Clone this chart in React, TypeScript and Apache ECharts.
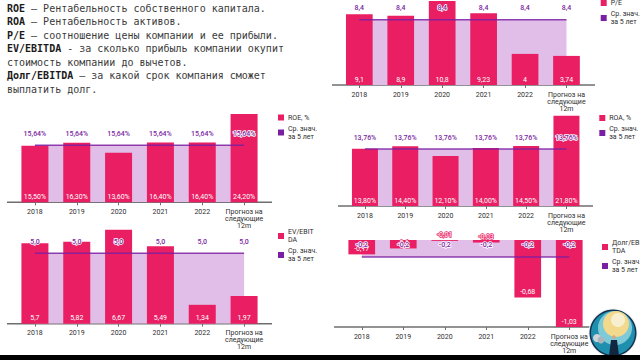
import React, { useEffect, useRef } from "react";
import * as echarts from "echarts";

const categories = ["2018", "2019", "2020", "2021", "2022", "Прогноз на\nследующие\n12m"];

const roeValues = [15.5, 16.3, 13.6, 16.4, 16.4, 24.2];
const roeAverage = [15.64, 15.64, 15.64, 15.64, 15.64, 15.64];
const roaValues = [13.8, 14.4, 12.1, 14.0, 14.5, 21.8];
const roaAverage = [13.76, 13.76, 13.76, 13.76, 13.76, 13.76];
const peValues = [9.1, 8.9, 10.8, 9.23, 4, 3.74];
const peAverage = [8.4, 8.4, 8.4, 8.4, 8.4, 8.4];
const evValues = [5.7, 5.82, 6.67, 5.49, 1.34, 1.97];
const evAverage = [5.0, 5.0, 5.0, 5.0, 5.0, 5.0];
const debtValues = [-0.17, -0.1, -0.01, -0.03, -0.68, -1.03];
const debtAverage = [-0.2, -0.2, -0.2, -0.2, -0.2, -0.2];

const noteLines: [string, string][] = [
  ["ROE", " — Рентабельность собственного капитала."],
  ["ROA", " — Рентабельность активов."],
  ["P/E", " — соотношение цены компании и ее прибыли."],
  ["EV/EBITDA", " - за сколько прибыль компании окупит"],
  ["", "стоимость компании до вычетов."],
  ["Долг/EBITDA", " — за какой срок компания сможет"],
  ["", "выплатить долг."],
];

const PINK = "#e91e63";
const PURPLE = "#7b1fa2";
const AREA = "#e1bee7";
const AVG_NAME = "Ср. знач.\nза 5 лет";
const FONT = "Roboto";

const comma = (s: string) => s.replace(".", ",");

const panels = [
  { name: "ROE, %", values: roeValues, avg: roeAverage, left: 14, right: 265, top: 114, bottom: 202.3, min: 0, max: 24.2, barWidth: 27, axisFrom: 7, axisTo: 272, legend: [278, 113.5],
    fmtValue: (v: number) => comma(v.toFixed(2)) + "%", fmtAvg: (v: number) => comma(v.toFixed(2)) + "%" },
  { name: "ROA, %", values: roaValues, avg: roaAverage, left: 344.8, right: 586.6, top: 115.7, bottom: 206, min: 0, max: 21.8, barWidth: 26, axisFrom: 338, axisTo: 593, legend: [599.3, 114],
    fmtValue: (v: number) => comma(v.toFixed(2)) + "%", fmtAvg: (v: number) => comma(v.toFixed(2)) + "%" },
  { name: "P/E", values: peValues, avg: peAverage, left: 338.6, right: 587.2, top: 1, bottom: 85, min: 0, max: 10.8, barWidth: 26.7, axisFrom: 332, axisTo: 595, legend: [600.7, -1],
    fmtValue: (v: number) => comma(String(v)), fmtAvg: (v: number) => comma(v.toFixed(1)) },
  { name: "EV/EBIT\nDA", values: evValues, avg: evAverage, left: 14, right: 265, top: 229.7, bottom: 323.7, min: 0, max: 6.67, barWidth: 27, axisFrom: 7, axisTo: 272, legend: [278, 228],
    fmtValue: (v: number) => comma(String(v)), fmtAvg: (v: number) => comma(v.toFixed(1)) },
  { name: "Долг/EBI\nTDA", values: debtValues, avg: debtAverage, left: 341, right: 590, top: 240, bottom: 327, min: -1.03, max: 0, barWidth: 26.7, axisFrom: 334, axisTo: 600, legend: [602, 239],
    fmtValue: (v: number) => comma(String(v)), fmtAvg: (v: number) => comma(String(v)) },
];

function buildOption() {
  const grid: any[] = [];
  const xAxis: any[] = [];
  const yAxis: any[] = [];
  const series: any[] = [];
  const legend: any[] = [];
  const graphic: any[] = [];

  panels.forEach((p, i) => {
    grid.push({ left: p.left, width: p.right - p.left, top: p.top, height: p.bottom - p.top, containLabel: false });
    xAxis.push({
      type: "category", gridIndex: i, data: categories, position: "bottom",
      axisLine: { show: false, onZero: false },
      axisTick: { show: true, alignWithLabel: true, length: 3, lineStyle: { color: "#6e6e6e", width: 1 } },
      axisLabel: { interval: 0, margin: 6, color: "#2e2e2e", fontFamily: FONT, fontSize: 7, lineHeight: 7 },
    });
    yAxis.push({ type: "value", gridIndex: i, show: false, min: p.min, max: p.max });
    series.push({
      type: "line", name: "area" + i, xAxisIndex: i, yAxisIndex: i, data: p.avg, z: 1,
      symbol: "none", lineStyle: { width: 0 }, areaStyle: { color: AREA, opacity: 1 },
    });
    series.push({
      type: "bar", name: p.name, xAxisIndex: i, yAxisIndex: i, data: p.values, z: 2, barWidth: p.barWidth,
      itemStyle: { color: PINK },
      label: {
        show: true, position: "insideBottom", distance: 2, color: "#fff", fontFamily: FONT, fontSize: 7,
        textBorderColor: PINK, textBorderWidth: 1.5,
        formatter: (d: any) => p.fmtValue(d.value),
      },
    });
    series.push({
      type: "line", name: AVG_NAME, xAxisIndex: i, yAxisIndex: i, data: p.avg, z: 3,
      symbol: "circle", symbolSize: 0, itemStyle: { color: PURPLE },
      lineStyle: { color: PURPLE, width: 1.5, opacity: 0.85 },
      label: {
        show: true, position: "top", distance: 8, color: PURPLE, fontFamily: FONT, fontSize: 7, fontWeight: 500,
        textBorderColor: "#fff", textBorderWidth: 1.5,
        formatter: (d: any) => p.fmtAvg(d.value),
      },
    });
    legend.push({
      left: p.legend[0], top: p.legend[1], orient: "vertical", icon: "rect", itemWidth: 6, itemHeight: 6, itemGap: 3,
      selectedMode: false, padding: 0, data: [p.name, AVG_NAME],
      textStyle: { color: "#2e2e2e", fontFamily: FONT, fontSize: 7, lineHeight: 8, padding: [0, 0, 0, -1] },
    });
    graphic.push({
      type: "line", z: 0, shape: { x1: p.axisFrom, y1: p.bottom, x2: p.axisTo, y2: p.bottom },
      style: { stroke: "#6e6e6e", lineWidth: 1.5 },
    });
  });

  noteLines.forEach((l, i) => {
    graphic.push({
      type: "text", z: 5, x: 7, y: 8.3 + i * 13.5,
      style: {
        text: (l[0] ? `{b|${l[0]}}` : "") + `{n|${l[1]}}`,
        verticalAlign: "middle", align: "left",
        rich: {
          b: { fontFamily: "DejaVu Sans Mono", fontSize: 10, fontWeight: "bold", fill: "#1a1a1a", color: "#1a1a1a" },
          n: { fontFamily: "DejaVu Sans Mono", fontSize: 10, fill: "#3a3a3a", color: "#3a3a3a" },
        },
      },
    });
  });

  // round logo in the corner
  const cx = 613;
  const cy = 333;
  const disc = (dx: number, dy: number, r: number, fill: string) => ({
    type: "circle", z: 50, shape: { cx: cx + dx, cy: cy + dy, r }, style: { fill },
  });
  graphic.push(
    disc(0, 0, 24.5, "#f0f0f0"),
    disc(0, 0, 23.5, "#12314f"),
    disc(0, 0, 22, "#1f8fae"),
    disc(2, -5, 17, "#7fcad6"),
    disc(3, -9, 13, "#f2d98c"),
    disc(5, -13, 7, "#f7efd0"),
    disc(-16, 5, 4, "#cfd4da"),
    disc(-12, 7, 3.5, "#aab4bd"),
    disc(1, 4, 1.8, "#d9a67a"),
    { type: "polygon", z: 51, shape: { points: [[cx - 4, cy + 23], [cx - 2, cy + 7], [cx + 4, cy + 7], [cx + 6, cy + 23]] }, style: { fill: "#12263f" } },
    { type: "rect", z: 60, shape: { x: 0, y: 355, width: 640, height: 5 }, style: { fill: "#000" } },
  );

  return { animation: false, backgroundColor: "#fff", grid, xAxis, yAxis, series, legend, graphic };
}

export default function App() {
  const ref = useRef<HTMLDivElement>(null);
  useEffect(() => {
    document.body.style.margin = "0";
    const chart = echarts.init(ref.current!, undefined, { renderer: "svg" });
    chart.setOption(buildOption());
    return () => chart.dispose();
  }, []);
  return <div ref={ref} style={{ width: 640, height: 360 }} />;
}
